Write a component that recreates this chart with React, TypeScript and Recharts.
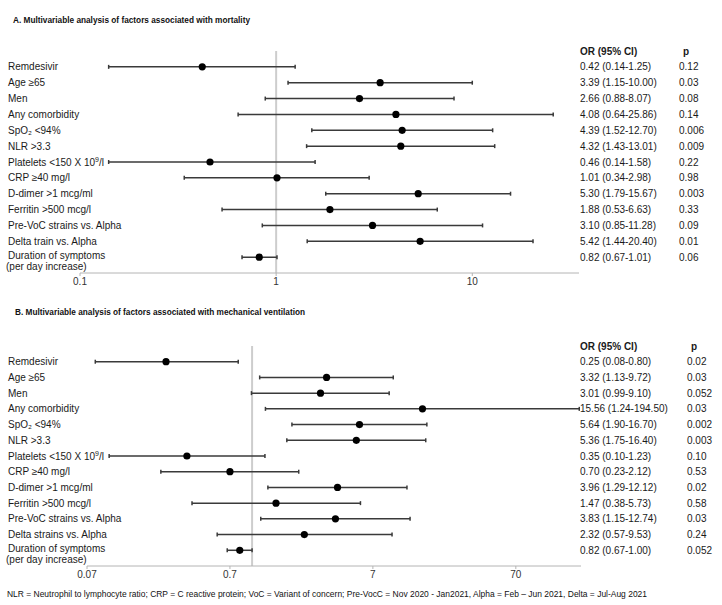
import { ScatterChart, Scatter, XAxis, YAxis, ErrorBar, ReferenceLine } from 'recharts'

const FONT = '"Liberation Sans", Arial, sans-serif'

const labelsA = [
  'Remdesivir', 'Age ≥65', 'Men', 'Any comorbidity', 'SpO₂ <94%', 'NLR >3.3', 'Platelets <150 X 10⁹/l',
  'CRP ≥40 mg/l', 'D-dimer >1 mcg/ml', 'Ferritin >500 mcg/l', 'Pre-VoC strains vs. Alpha', 'Delta train vs. Alpha',
  'Duration of symptoms\n(per day increase)',
]
const labelsB = [
  'Remdesivir', 'Age ≥65', 'Men', 'Any comorbidity', 'SpO₂ <94%', 'NLR >3.3', 'Platelets <150 X 10⁹/l',
  'CRP ≥40 mg/l', 'D-dimer >1 mcg/ml', 'Ferritin >500 mcg/l', 'Pre-VoC strains vs. Alpha', 'Delta strains vs. Alpha',
  'Duration of symptoms\n(per day increase)',
]

const orA = [0.42, 3.39, 2.66, 4.08, 4.39, 4.32, 0.46, 1.01, 5.3, 1.88, 3.1, 5.42, 0.82]
const loA = [0.14, 1.15, 0.88, 0.64, 1.52, 1.43, 0.14, 0.34, 1.79, 0.53, 0.85, 1.44, 0.67]
const hiA = [1.25, 10.0, 8.07, 25.86, 12.7, 13.01, 1.58, 2.98, 15.67, 6.63, 11.28, 20.4, 1.01]
const pA = ['0.12', '0.03', '0.08', '0.14', '0.006', '0.009', '0.22', '0.98', '0.003', '0.33', '0.09', '0.01', '0.06']

const orB = [0.25, 3.32, 3.01, 15.56, 5.64, 5.36, 0.35, 0.7, 3.96, 1.47, 3.83, 2.32, 0.82]
const loB = [0.08, 1.13, 0.99, 1.24, 1.9, 1.75, 0.1, 0.23, 1.29, 0.38, 1.15, 0.57, 0.67]
const hiB = [0.8, 9.72, 9.1, 194.5, 16.7, 16.4, 1.23, 2.12, 12.12, 5.73, 12.74, 9.53, 1.0]
const pB = ['0.02', '0.03', '0.052', '0.03', '0.002', '0.003', '0.10', '0.53', '0.02', '0.58', '0.03', '0.24', '0.052']

const ticksA = [0.1, 1, 10]
const ticksB = [0.07, 0.7, 7, 70]

interface ForestProps {
  labels: string[]
  or: number[]
  lo: number[]
  hi: number[]
  p: string[]
  xDomain: [number, number]
  xTicks: number[]
  top: number
  leftW: number
  rightW: number
  marginTop: number
  axisH: number
  pX: number
}

// the ⁹ glyph renders badly in the fallback font, so draw it as a raised tspan
function labelText(s: string) {
  const parts = s.split('⁹')
  if (parts.length === 1) return s
  return (
    <>
      {parts[0]}
      <tspan dy={-4} fontSize={7}>9</tspan>
      <tspan dy={4}>{parts[1]}</tspan>
    </>
  )
}

function Forest({ labels, or, lo, hi, p, xDomain, xTicks, top, leftW, rightW, marginTop, axisH, pX }: ForestProps) {
  const data = or.map((v, i) => ({ row: i, or: v, err: [v - lo[i], hi[i] - v] }))
  const rows = labels.map((_, i) => i)
  const fmt = (n: number) => n.toFixed(2)

  // left labels plus the OR / p columns on the right, all keyed on the row tick
  const rowTick = (props: any) => {
    const i = props.payload.value
    const y = props.y
    if (i === -1) {
      return (
        <g fontFamily={FONT} fontSize={10} fontWeight="bold" fill="#1a1a1a">
          <text x={580} y={y} dy="0.35em">OR (95% CI)</text>
          <text x={pX + 4} y={y} dy="0.35em">p</text>
        </g>
      )
    }
    const lines = labels[i].split('\n')
    return (
      <g fontFamily={FONT} fontSize={10} fill="#1a1a1a">
        {lines.length > 1 ? (
          <>
            <text x={8} y={y - 2} dy="0.35em">{lines[0]}</text>
            <text x={6} y={y + 9.5} dy="0.35em">{lines[1]}</text>
          </>
        ) : (
          <text x={8} y={y} dy="0.35em">{labelText(lines[0])}</text>
        )}
        <text x={580} y={y} dy="0.35em">{`${fmt(or[i])} (${fmt(lo[i])}-${fmt(hi[i])})`}</text>
        <text x={pX} y={y} dy="0.35em">{p[i]}</text>
      </g>
    )
  }

  return (
    <div style={{ position: 'absolute', left: 0, top }}>
      <ScatterChart width={722} height={300} margin={{ top: marginTop, right: rightW, bottom: 0, left: 0 }}>
        <XAxis
          dataKey="or"
          type="number"
          scale="log"
          domain={xDomain}
          ticks={xTicks}
          allowDataOverflow
          height={axisH}
          stroke="#b4b4b4"
          tickSize={3}
          tick={{ fontSize: 10, fill: '#333', fontFamily: FONT }}
          tickFormatter={(v: number) => String(v)}
        />
        <YAxis
          dataKey="row"
          type="number"
          domain={[-1, 13]}
          reversed
          ticks={[-1, ...rows]}
          interval={0}
          width={leftW}
          axisLine={false}
          tickLine={false}
          tick={rowTick}
        />
        <ReferenceLine x={1} stroke="#cdcdcd" strokeWidth={2} />
        <Scatter
          data={data}
          fill="#000"
          isAnimationActive={false}
          shape={(s: any) => <circle cx={s.cx} cy={s.cy} r={3.6} fill="#000" />}
        >
          <ErrorBar dataKey="err" direction="x" width={2} stroke="#3a3a3a" strokeWidth={1.5} />
        </Scatter>
      </ScatterChart>
    </div>
  )
}

export default function App() {
  return (
    <div style={{ position: 'absolute', left: 0, top: 0, width: 722, height: 605, background: '#fff' }}>
      <Forest
        labels={labelsA} or={orA} lo={loA} hi={hiA} p={pA}
        xDomain={[0.1, 35]} xTicks={ticksA}
        top={0} leftW={80} rightW={143} marginTop={51} axisH={27} pX={679}
      />
      <Forest
        labels={labelsB} or={orB} lo={loB} hi={hiB} p={pB}
        xDomain={[0.07, 200]} xTicks={ticksB}
        top={290} leftW={87} rightW={141} marginTop={56} axisH={24} pX={687}
      />
      <svg width={722} height={605} style={{ position: 'absolute', left: 0, top: 0, pointerEvents: 'none' }}>
        <g fontFamily={FONT} fill="#111">
          <text x={13} y={23} fontSize={9} fontWeight="bold" textLength={237} lengthAdjust="spacingAndGlyphs">
            A. Multivariable analysis of factors associated with mortality
          </text>
          <text x={15} y={315} fontSize={9} fontWeight="bold" textLength={290} lengthAdjust="spacingAndGlyphs">
            B. Multivariable analysis of factors associated with mechanical ventilation
          </text>
          <text x={7} y={597} fontSize={9} textLength={640} lengthAdjust="spacingAndGlyphs">
            NLR = Neutrophil to lymphocyte ratio; CRP = C reactive protein; VoC = Variant of concern; Pre-VocC = Nov 2020 - Jan2021, Alpha = Feb – Jun 2021, Delta = Jul-Aug 2021
          </text>
        </g>
      </svg>
    </div>
  )
}
